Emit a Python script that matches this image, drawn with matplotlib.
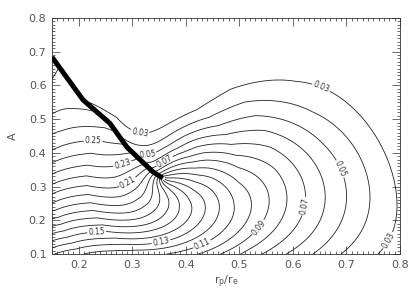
import numpy as np
import matplotlib
matplotlib.use("Agg")
import matplotlib.pyplot as plt
from matplotlib.ticker import MultipleLocator, FormatStrFormatter

# ---------------- data ----------------
cusp_x, cusp_y = 0.357, 0.325
ridge_x = [0.150, 0.208, 0.258, 0.290, 0.309, 0.339, 0.357]
ridge_y = [0.684, 0.557, 0.488, 0.417, 0.388, 0.343, 0.325]

levels = [round(0.03 + 0.01 * i, 2) for i in range(26)]
label_levels = [0.03, 0.05, 0.07, 0.09, 0.11, 0.13, 0.15, 0.17, 0.19, 0.21, 0.23, 0.25, 0.27]

# points: level, x list, y list
c_lev = [0.03, 0.04, 0.05, 0.06, 0.07, 0.08, 0.09, 0.10, 0.11, 0.12, 0.13, 0.14, 0.15,
         0.16, 0.17, 0.18, 0.19, 0.20, 0.21, 0.22, 0.23, 0.24, 0.25, 0.26, 0.27, 0.28]
c_x = [[0.314, 0.333, 0.360, 0.390, 0.420, 0.445, 0.500, 0.570, 0.657, 0.720, 0.763, 0.795,
        0.776, 0.750],
       [0.315, 0.360, 0.408, 0.450, 0.500, 0.544, 0.650, 0.720, 0.750, 0.735, 0.700],
       [0.328, 0.370, 0.408, 0.450, 0.533, 0.620, 0.675, 0.690, 0.675, 0.650],
       [0.340, 0.408, 0.520, 0.610, 0.656, 0.635, 0.600],
       [0.350, 0.408, 0.507, 0.590, 0.627, 0.600, 0.550],
       [0.408, 0.490, 0.595, 0.570, 0.480],
       [0.408, 0.480, 0.567, 0.542, 0.480, 0.400],
       [0.543, 0.500, 0.450, 0.350],
       [0.408, 0.520, 0.490, 0.427, 0.360, 0.290],
       [0.500, 0.460, 0.390, 0.300, 0.220],
       [0.408, 0.483, 0.450, 0.352, 0.250, 0.150],
       [0.465, 0.300, 0.234, 0.150],
       [0.408, 0.450, 0.400, 0.300, 0.234, 0.150],
       [0.250, 0.150],
       [0.300, 0.150],
       [0.150],
       [0.285, 0.150],
       [0.150],
       [0.292, 0.150],
       [0.330, 0.150],
       [0.281, 0.300, 0.150],
       [0.285, 0.150],
       [0.227, 0.266, 0.150],
       [0.245, 0.150],
       [0.215, 0.150],
       [0.180, 0.150]]
c_y = [[0.459, 0.467, 0.495, 0.530, 0.560, 0.586, 0.625, 0.643, 0.610, 0.530, 0.417, 0.290,
        0.142, 0.100],
       [0.428, 0.455, 0.488, 0.510, 0.528, 0.536, 0.490, 0.388, 0.260, 0.160, 0.100],
       [0.393, 0.415, 0.438, 0.455, 0.468, 0.425, 0.343, 0.260, 0.170, 0.100],
       [0.375, 0.408, 0.430, 0.380, 0.260, 0.165, 0.100],
       [0.360, 0.387, 0.400, 0.340, 0.240, 0.160, 0.100],
       [0.372, 0.375, 0.260, 0.170, 0.100],
       [0.360, 0.355, 0.260, 0.170, 0.125, 0.100],
       [0.260, 0.165, 0.130, 0.100],
       [0.337, 0.260, 0.180, 0.140, 0.120, 0.100],
       [0.260, 0.180, 0.145, 0.120, 0.100],
       [0.316, 0.260, 0.190, 0.147, 0.122, 0.105],
       [0.265, 0.140, 0.134, 0.122],
       [0.297, 0.270, 0.200, 0.160, 0.147, 0.141],
       [0.172, 0.165],
       [0.215, 0.190],
       [0.212],
       [0.255, 0.237],
       [0.265],
       [0.310, 0.295],
       [0.342, 0.319],
       [0.370, 0.382, 0.349],
       [0.415, 0.379],
       [0.432, 0.458, 0.417],
       [0.485, 0.455],
       [0.532, 0.503],
       [0.605, 0.585]]

# blank areas (no contour drawn there): estimated values
blank_x = [0.150, 0.220, 0.300, 0.300, 0.350, 0.450, 0.450, 0.550, 0.600, 0.700, 0.720, 0.800,
           0.800, 0.800, 0.800, 0.800, 0.400, 0.250, 0.500,
           0.270, 0.220, 0.170, 0.330, 0.200, 0.160, 0.250, 0.380, 0.650]
blank_y = [0.780, 0.750, 0.800, 0.600, 0.700, 0.800, 0.700, 0.780, 0.700, 0.800, 0.660, 0.700,
           0.550, 0.400, 0.200, 0.120, 0.620, 0.680, 0.660,
           0.500, 0.580, 0.670, 0.530, 0.660, 0.640, 0.800, 0.780, 0.800]
blank_v = [0.015, 0.018, 0.015, 0.024, 0.020, 0.018, 0.024, 0.021, 0.026, 0.020, 0.025, 0.023,
           0.026, 0.029, 0.029, 0.028, 0.025, 0.020, 0.027,
           0.025, 0.021, 0.017, 0.027, 0.018, 0.285, 0.014, 0.017, 0.020]

# label anchor positions (also places where the values are read best)
label_pos = [(0.314, 0.459), (0.657, 0.61), (0.776, 0.142), (0.328, 0.393), (0.675, 0.343),
             (0.361, 0.373), (0.627, 0.24), (0.542, 0.17), (0.427, 0.14), (0.352, 0.147),
             (0.234, 0.147), (0.292, 0.31), (0.281, 0.37), (0.227, 0.432)]

# ---------------- smooth field through the samples ----------------
PX, PY = 535.0, 337.0   # pixel scale of the axes
rx = (np.array(ridge_x[:-1]) - cusp_x) * PX
ry = (np.array(ridge_y[:-1]) - cusp_y) * PY
ridge_r = np.hypot(rx, ry)[::-1]
ridge_th = np.unwrap(np.arctan2(ry, rx)[::-1])


def cusp_coords(x, y):
    du = (np.asarray(x, float) - cusp_x) * PX
    dv = (np.asarray(y, float) - cusp_y) * PY
    r = np.hypot(du, dv)
    th = np.arctan2(dv, du)
    thc = np.interp(r, ridge_r, ridge_th)
    phi = np.mod(th - thc, 2 * np.pi) - np.pi
    s = np.sqrt(r / 250.0)
    return s * np.cos(phi / 2), s * np.sin(phi / 2)


DEG = 5


def design(x, y):
    xi, eta = cusp_coords(x, y)
    cols = [xi ** i * eta ** j for i in range(DEG + 1) for j in range(DEG + 1 - i)]
    return np.stack(cols, axis=-1)


sx = np.concatenate([np.array(v, float) for v in c_x] + [np.array(blank_x)])
sy = np.concatenate([np.array(v, float) for v in c_y] + [np.array(blank_y)])
sv = np.concatenate([np.full(len(v), lv) for v, lv in zip(c_x, c_lev)] + [np.array(blank_v)])
n_c = sum(len(v) for v in c_x)
wt = np.concatenate([np.ones(n_c), 0.6 * np.ones(len(blank_x))])
for lx, ly in label_pos:
    near = (np.abs(sx - lx) < 0.004) & (np.abs(sy - ly) < 0.004)
    wt[near] = 3.0

A = design(sx, sy) * wt[:, None]
b = sv * wt
lam = 1e-6
coef = np.linalg.solve(A.T @ A + lam * np.eye(A.shape[1]), A.T @ b)

xg = np.linspace(0.15, 0.8, 500)
yg = np.linspace(0.1, 0.8, 500)
XG, YG = np.meshgrid(xg, yg)
F = design(XG, YG) @ coef

# mask a thin band along the ridge (covered by the thick line)
gx = XG * PX
gy = YG * PY
dmin = np.full(XG.shape, np.inf)
for i in range(len(ridge_x) - 1):
    ax0, ay0 = ridge_x[i] * PX, ridge_y[i] * PY
    bx0, by0 = ridge_x[i + 1] * PX, ridge_y[i + 1] * PY
    vx, vy = bx0 - ax0, by0 - ay0
    t = np.clip(((gx - ax0) * vx + (gy - ay0) * vy) / (vx * vx + vy * vy), 0, 1)
    d = np.hypot(gx - ax0 - t * vx, gy - ay0 - t * vy)
    dmin = np.minimum(dmin, d)
F = np.ma.masked_where(dmin < 2.0, F)

# ---------------- figure ----------------
fig = plt.figure(figsize=(4.15, 2.98), dpi=100)
ax = fig.add_axes([52 / 415, 1 - 254 / 298, 348 / 415, 236 / 298])

odd_levels = [lv for lv in levels if lv in label_levels]
even_levels = [lv for lv in levels if lv not in label_levels]
ax.contour(XG, YG, F, levels=even_levels, colors="#222222", linewidths=0.6)
cs = ax.contour(XG, YG, F, levels=odd_levels, colors="#222222", linewidths=0.6)
ax.clabel(cs, manual=label_pos, inline=True, fontsize=5.5,
          fmt="%.2f", inline_spacing=1, colors="#333333")

ax.plot(ridge_x, ridge_y, color="black", lw=3.6, solid_capstyle="butt", zorder=5)

ax.set_xlim(0.15, 0.8)
ax.set_ylim(0.1, 0.8)
ax.xaxis.set_major_locator(MultipleLocator(0.1))
ax.yaxis.set_major_locator(MultipleLocator(0.1))
ax.xaxis.set_minor_locator(MultipleLocator(0.01))
ax.yaxis.set_minor_locator(MultipleLocator(0.01))
ax.xaxis.set_major_formatter(FormatStrFormatter("%.1f"))
ax.yaxis.set_major_formatter(FormatStrFormatter("%.1f"))
ax.tick_params(which="both", direction="in", top=True, right=True, width=0.5,
               color="#333333", labelsize=8, labelcolor="#555555", pad=4)
ax.tick_params(which="major", length=6)
ax.tick_params(which="minor", length=2.5)
for sp in ax.spines.values():
    sp.set_linewidth(0.6)
    sp.set_color("#333333")

ax.set_xlabel(r"$\mathregular{r_p / r_e}$", fontsize=8, color="#555555", labelpad=3)
ax.set_ylabel("A", fontsize=8, color="#555555", labelpad=8)

fig.savefig("out.png", dpi=100)
